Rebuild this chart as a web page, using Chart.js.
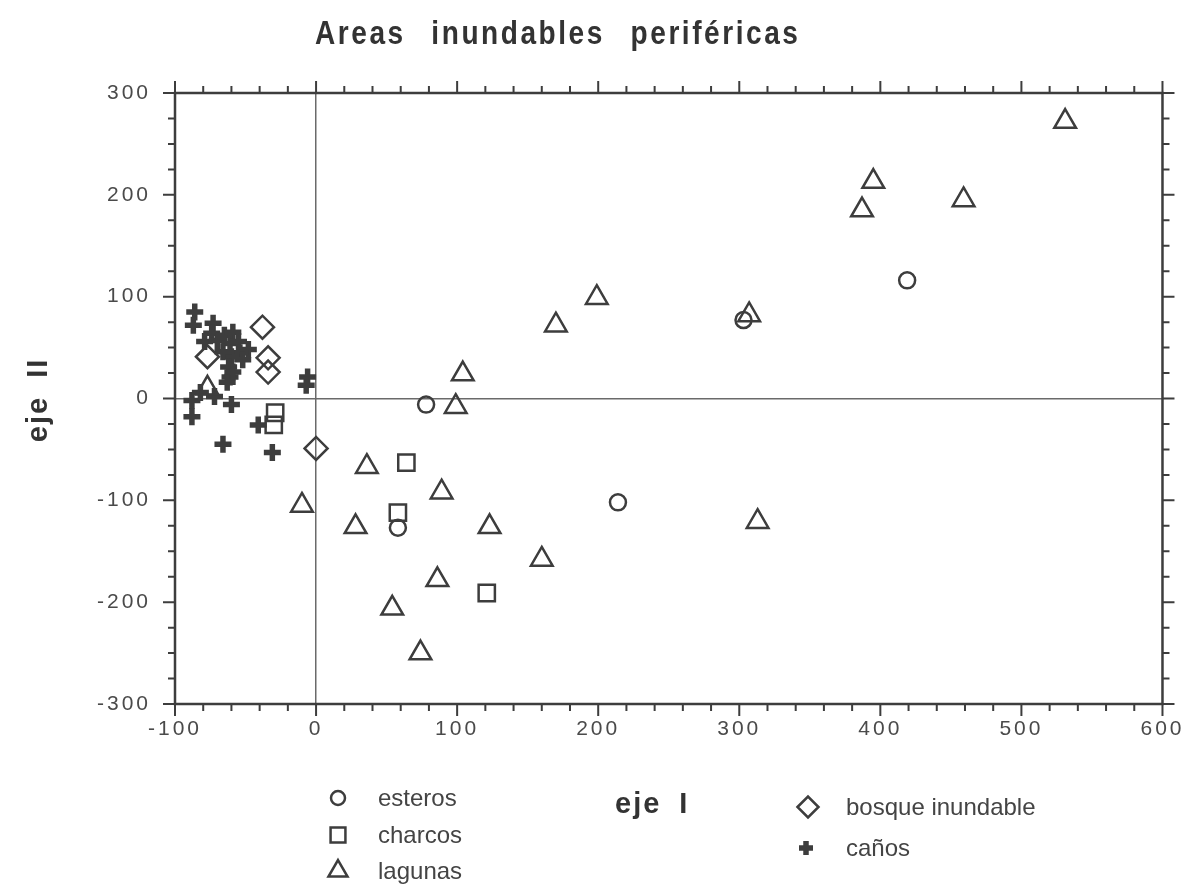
<!DOCTYPE html>
<html>
<head>
<meta charset="utf-8">
<title>Areas inundables periféricas</title>
<script src="https://cdn.jsdelivr.net/npm/chart.js@4/dist/chart.umd.min.js"></script>
<style>
  html, body { margin: 0; padding: 0; background: #fff; }
</style>
</head>
<body>
<canvas id="ordenacion" width="1193" height="893"></canvas>
<script>
const ink = "#3d3d3d";

// puntuaciones de cada muestra sobre eje I / eje II
const esterosX = [419, 303, 78, 214, 58];
const esterosY = [116, 77, -6, -102, -127];

const charcosX = [64, 58, 121, -29, -30];
const charcosY = [-63, -112, -191, -14, -26];

const lagunasX = [531, 395, 387, 459, 199, 170, 307, 104, 99, 36, 89, -10, 28, 123, 160, 86, 54, 74, 313, -77];
const lagunasY = [272, 213, 185, 195, 99, 72, 82, 24, -8, -67, -92, -105, -126, -126, -158, -178, -206, -250, -121, 10];

const bosqueX = [-38, -77, -34, -34, 0];
const bosqueY = [70, 41, 40, 26, -49];

const canosX = [-86, -87, -73, -74, -79, -70, -65, -59, -61, -55, -48, -54, -60, -66, -52, -62, -61, -63, -59, -6, -7, -88, -82, -72, -60, -88, -66, -31, -41];
const canosY = [85, 72, 74, 64, 56, 57, 62, 65, 54, 56, 48, 45, 41, 46, 38, 31, 21, 16, 26, 21, 13, -2, 6, 2, -6, -18, -45, -53, -26];

const xTicks = [-100, 0, 100, 200, 300, 400, 500, 600];
const yTicks = [-300, -200, -100, 0, 100, 200, 300];

const toPoints = (xs, ys) => xs.map((x, i) => ({ x: x, y: ys[i] }));

const series = [
  { label: "esteros", xs: esterosX, ys: esterosY, style: "circle", r: 8, w: 2.5 },
  { label: "charcos", xs: charcosX, ys: charcosY, style: "rect", r: 11.5, w: 2.5 },
  { label: "lagunas", xs: lagunasX, ys: lagunasY, style: "triangle", r: 12.5, w: 2.5 },
  { label: "bosque inundable", xs: bosqueX, ys: bosqueY, style: "rectRot", r: 11.5, w: 2.5 },
  { label: "caños", xs: canosX, ys: canosY, style: "cross", r: 8.5, w: 5.5 }
];

const tickFont = { family: "'Liberation Sans', Arial, sans-serif", size: 21 };

// marco, marcas de escala, titulo y leyenda
const marco = {
  id: "marco",
  beforeDraw(chart) {
    chart.ctx.letterSpacing = "3px";
  },
  afterDraw(chart) {
    const ctx = chart.ctx;
    const a = chart.chartArea;
    const sx = chart.scales.x;
    const sy = chart.scales.y;
    ctx.save();
    ctx.strokeStyle = ink;
    ctx.lineWidth = 2;
    ctx.beginPath();
    for (let v = -100; v <= 600; v += 20) {
      const px = sx.getPixelForValue(v);
      const len = v % 100 === 0 ? 12 : 7;
      ctx.moveTo(px, a.bottom);
      ctx.lineTo(px, a.bottom + len);
      ctx.moveTo(px, a.top);
      ctx.lineTo(px, a.top - len);
    }
    for (let v = -300; v <= 300; v += 25) {
      const py = sy.getPixelForValue(v);
      const len = v % 100 === 0 ? 12 : 7;
      ctx.moveTo(a.left, py);
      ctx.lineTo(a.left - len, py);
      ctx.moveTo(a.right, py);
      ctx.lineTo(a.right + len, py);
    }
    ctx.stroke();
    ctx.lineWidth = 2.5;
    ctx.strokeRect(a.left, a.top, a.right - a.left, a.bottom - a.top);

    // titulo (letra condensada)
    ctx.fillStyle = "#333";
    ctx.textAlign = "left";
    ctx.textBaseline = "alphabetic";
    ctx.save();
    ctx.translate(315, 44);
    ctx.scale(0.85, 1);
    ctx.font = "bold 33px 'Liberation Sans', sans-serif";
    ctx.letterSpacing = "3px";
    ctx.wordSpacing = "18px";
    ctx.fillText("Areas inundables periféricas", 0, 0);
    ctx.restore();

    // nombres de ejes
    ctx.font = "bold 29px 'Liberation Sans', sans-serif";
    ctx.letterSpacing = "2px";
    ctx.wordSpacing = "8px";
    ctx.fillText("eje I", 615, 813);
    ctx.save();
    ctx.translate(47, 400);
    ctx.rotate(-Math.PI / 2);
    ctx.textAlign = "center";
    ctx.fillText("eje II", 0, 0);
    ctx.restore();

    // leyenda
    const rows = [
      [0, 338, 798, 378],
      [1, 338, 835, 378],
      [2, 338, 871, 378],
      [3, 808, 807, 846],
      [4, 806, 848, 846]
    ];
    ctx.font = "24px 'Liberation Sans', sans-serif";
    ctx.letterSpacing = "0px";
    ctx.wordSpacing = "0px";
    ctx.textBaseline = "middle";
    rows.forEach(([i, mx, my, tx]) => {
      const s = series[i];
      ctx.strokeStyle = ink;
      ctx.fillStyle = "rgba(0,0,0,0)";
      ctx.lineWidth = s.w;
      const r = s.style === "cross" ? 7 : s.style === "triangle" ? 11 : s.r - 1;
      Chart.helpers.drawPoint(ctx, { pointStyle: s.style, radius: r, rotation: 0, borderWidth: s.w }, mx, my);
      ctx.fillStyle = "#444";
      ctx.fillText(s.label, tx, my + 1);
    });
    ctx.restore();
  }
};

const zeroLine = (c) => (c.tick && c.tick.value === 0 ? "#6a6a6a" : "rgba(0,0,0,0)");

new Chart(document.getElementById("ordenacion").getContext("2d"), {
  type: "scatter",
  data: {
    datasets: series.map((s) => ({
      label: s.label,
      data: toPoints(s.xs, s.ys),
      pointStyle: s.style,
      pointRadius: s.r,
      pointHoverRadius: s.r,
      pointBorderWidth: s.w,
      borderColor: ink,
      backgroundColor: "rgba(0,0,0,0)"
    }))
  },
  options: {
    responsive: false,
    animation: false,
    layout: { padding: { left: 0, top: 93, right: 29, bottom: 149 } },
    plugins: {
      legend: { display: false },
      tooltip: { enabled: false }
    },
    scales: {
      x: {
        type: "linear",
        min: -100,
        max: 600,
        afterBuildTicks: (s) => { s.ticks = xTicks.map((v) => ({ value: v })); },
        ticks: { color: "#4a4a4a", font: tickFont, padding: 13, autoSkip: false, maxRotation: 0 },
        grid: { drawTicks: false, lineWidth: 1.5, color: zeroLine },
        border: { display: false },
        afterFit: (s) => { s.height = 40; }
      },
      y: {
        type: "linear",
        min: -300,
        max: 300,
        afterBuildTicks: (s) => { s.ticks = yTicks.map((v) => ({ value: v })); },
        ticks: { color: "#4a4a4a", font: tickFont, padding: 24, autoSkip: false },
        grid: { drawTicks: false, lineWidth: 1.5, color: zeroLine },
        border: { display: false },
        afterFit: (s) => { s.width = 175; }
      }
    }
  },
  plugins: [marco]
});
</script>
</body>
</html>
